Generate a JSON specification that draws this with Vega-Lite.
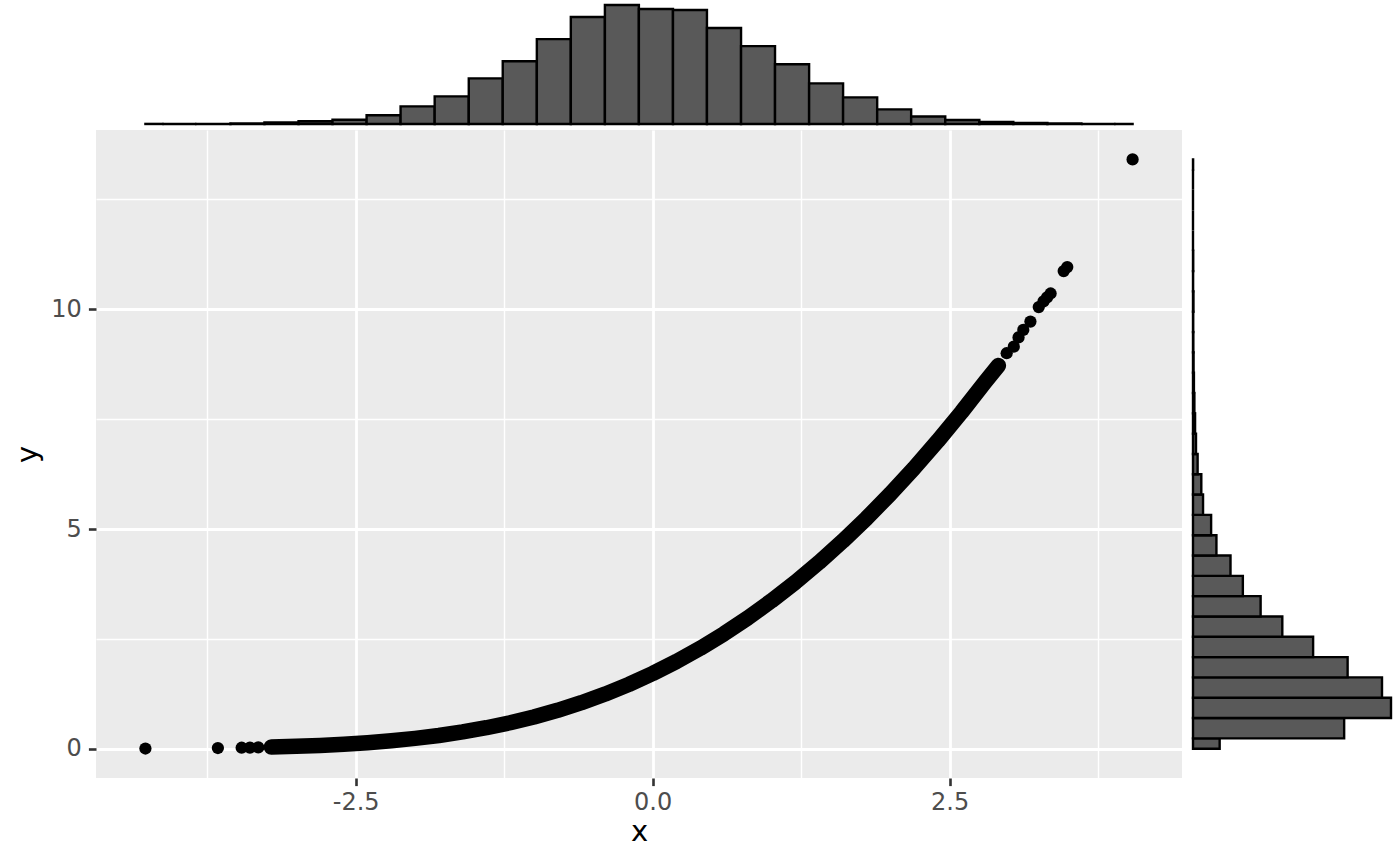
{
  "$schema": "https://vega.github.io/schema/vega-lite/v6.json",
  "background": "white",
  "padding": {"left": 13, "top": 3, "right": 5, "bottom": 5},
  "config": {"view": {"stroke": null}, "font": "DejaVu Sans"},
  "columns": 2,
  "align": "each",
  "spacing": {"row": 4, "column": 9},
  "datasets": {
    "pts": [
      {"x": -4.27, "y": 0.005}, {"x": -3.66, "y": 0.016}, {"x": -3.46, "y": 0.023}, {"x": -3.39, "y": 0.026}, {"x": -3.32, "y": 0.03},
      {"x": -3.21, "y": 0.037}, {"x": -3.0, "y": 0.054}, {"x": -2.8, "y": 0.075}, {"x": -2.6, "y": 0.102}, {"x": -2.4, "y": 0.137},
      {"x": -2.2, "y": 0.181}, {"x": -2.0, "y": 0.235}, {"x": -1.8, "y": 0.301}, {"x": -1.6, "y": 0.382}, {"x": -1.4, "y": 0.478},
      {"x": -1.2, "y": 0.591}, {"x": -1.0, "y": 0.722}, {"x": -0.8, "y": 0.874}, {"x": -0.6, "y": 1.048}, {"x": -0.4, "y": 1.244},
      {"x": -0.2, "y": 1.465}, {"x": 0.0, "y": 1.712}, {"x": 0.2, "y": 1.985}, {"x": 0.4, "y": 2.286}, {"x": 0.6, "y": 2.616},
      {"x": 0.8, "y": 2.976}, {"x": 1.0, "y": 3.366}, {"x": 1.2, "y": 3.787}, {"x": 1.4, "y": 4.24}, {"x": 1.6, "y": 4.725},
      {"x": 1.8, "y": 5.244}, {"x": 2.0, "y": 5.797}, {"x": 2.2, "y": 6.383}, {"x": 2.4, "y": 7.004}, {"x": 2.6, "y": 7.66},
      {"x": 2.8, "y": 8.351}, {"x": 2.91, "y": 8.72},
      {"x": 2.98, "y": 9.0}, {"x": 3.04, "y": 9.15}, {"x": 3.08, "y": 9.36}, {"x": 3.12, "y": 9.53}, {"x": 3.18, "y": 9.72},
      {"x": 3.25, "y": 10.05}, {"x": 3.29, "y": 10.18}, {"x": 3.32, "y": 10.27}, {"x": 3.35, "y": 10.36},
      {"x": 3.46, "y": 10.87}, {"x": 3.49, "y": 10.96}, {"x": 4.04, "y": 13.41}
    ],
    "xhist": [
      {"x0": -4.27, "x1": -4.127, "count": 1}, {"x0": -4.127, "x1": -3.841, "count": 0}, {"x0": -3.841, "x1": -3.554, "count": 1},
      {"x0": -3.554, "x1": -3.268, "count": 5}, {"x0": -3.268, "x1": -2.981, "count": 15}, {"x0": -2.981, "x1": -2.695, "count": 26},
      {"x0": -2.695, "x1": -2.408, "count": 40}, {"x0": -2.408, "x1": -2.122, "count": 82}, {"x0": -2.122, "x1": -1.835, "count": 164},
      {"x0": -1.835, "x1": -1.548, "count": 258}, {"x0": -1.548, "x1": -1.262, "count": 426}, {"x0": -1.262, "x1": -0.975, "count": 586},
      {"x0": -0.975, "x1": -0.689, "count": 792}, {"x0": -0.689, "x1": -0.402, "count": 998}, {"x0": -0.402, "x1": -0.116, "count": 1110},
      {"x0": -0.116, "x1": 0.171, "count": 1073}, {"x0": 0.171, "x1": 0.457, "count": 1063}, {"x0": 0.457, "x1": 0.744, "count": 895},
      {"x0": 0.744, "x1": 1.03, "count": 726}, {"x0": 1.03, "x1": 1.317, "count": 557}, {"x0": 1.317, "x1": 1.603, "count": 379},
      {"x0": 1.603, "x1": 1.89, "count": 248}, {"x0": 1.89, "x1": 2.176, "count": 136}, {"x0": 2.176, "x1": 2.463, "count": 70},
      {"x0": 2.463, "x1": 2.75, "count": 37}, {"x0": 2.75, "x1": 3.036, "count": 19}, {"x0": 3.036, "x1": 3.323, "count": 9},
      {"x0": 3.323, "x1": 3.609, "count": 4}, {"x0": 3.609, "x1": 3.896, "count": 0}, {"x0": 3.896, "x1": 4.04, "count": 1}
    ],
    "yhist": [
      {"y0": 0, "y1": 0.236, "count": 231}, {"y0": 0.236, "y1": 0.698, "count": 1310}, {"y0": 0.698, "y1": 1.16, "count": 1716},
      {"y0": 1.16, "y1": 1.623, "count": 1638}, {"y0": 1.623, "y1": 2.085, "count": 1340}, {"y0": 2.085, "y1": 2.547, "count": 1041},
      {"y0": 2.547, "y1": 3.01, "count": 774}, {"y0": 3.01, "y1": 3.472, "count": 586}, {"y0": 3.472, "y1": 3.934, "count": 432},
      {"y0": 3.934, "y1": 4.397, "count": 325}, {"y0": 4.397, "y1": 4.859, "count": 203}, {"y0": 4.859, "y1": 5.321, "count": 157},
      {"y0": 5.321, "y1": 5.784, "count": 87}, {"y0": 5.784, "y1": 6.246, "count": 72}, {"y0": 6.246, "y1": 6.708, "count": 40},
      {"y0": 6.708, "y1": 7.171, "count": 26}, {"y0": 7.171, "y1": 7.633, "count": 18}, {"y0": 7.633, "y1": 8.095, "count": 12},
      {"y0": 8.095, "y1": 8.558, "count": 8}, {"y0": 8.558, "y1": 9.02, "count": 5}, {"y0": 9.02, "y1": 9.482, "count": 3},
      {"y0": 9.482, "y1": 9.945, "count": 2}, {"y0": 9.945, "y1": 10.407, "count": 4}, {"y0": 10.407, "y1": 10.869, "count": 1},
      {"y0": 10.869, "y1": 11.332, "count": 2}, {"y0": 11.332, "y1": 11.794, "count": 0}, {"y0": 11.794, "y1": 12.256, "count": 0},
      {"y0": 12.256, "y1": 12.719, "count": 0}, {"y0": 12.719, "y1": 13.181, "count": 0}, {"y0": 13.181, "y1": 13.41, "count": 1}
    ]
  },
  "concat": [
    {
      "width": 1086,
      "height": 119,
      "data": {"name": "xhist"},
      "mark": {"type": "rect", "fill": "#595959", "stroke": "black", "strokeWidth": 2.4},
      "encoding": {
        "x": {"field": "x0", "type": "quantitative", "scale": {"domain": [-4.686, 4.456], "nice": false, "zero": false}, "axis": null},
        "x2": {"field": "x1"},
        "y": {"field": "count", "type": "quantitative", "scale": {"domain": [0, 1110], "nice": false}, "axis": null},
        "y2": {"datum": 0}
      }
    },
    {
      "width": 198,
      "height": 119,
      "data": {"values": []},
      "mark": {"type": "point", "opacity": 0}
    },
    {
      "width": 1086,
      "height": 648,
      "view": {"fill": "#EBEBEB"},
      "data": {"name": "pts"},
      "layer": [
        {
          "transform": [{"filter": "datum.x >= -3.25 && datum.x <= 2.95"}],
          "mark": {"type": "line", "color": "black", "strokeWidth": 15.5, "strokeCap": "round", "strokeJoin": "round"},
          "encoding": {
            "x": {"field": "x", "type": "quantitative", "scale": {"domain": [-4.686, 4.456], "nice": false, "zero": false},
                  "axis": {"orient": "top", "values": [-3.75, -1.25, 1.25, 3.75], "grid": true, "gridColor": "white", "gridWidth": 1.4, "gridOpacity": 1,
                           "labels": false, "ticks": false, "domain": false, "title": null, "minExtent": 0, "maxExtent": 0, "offset": 0}},
            "y": {"field": "y", "type": "quantitative", "scale": {"domain": [-0.666, 14.08], "nice": false, "zero": false},
                  "axis": {"orient": "right", "values": [2.5, 7.5, 12.5], "grid": true, "gridColor": "white", "gridWidth": 1.4, "gridOpacity": 1,
                           "labels": false, "ticks": false, "domain": false, "title": null, "minExtent": 0, "maxExtent": 0, "offset": 0}}
          }
        },
        {
          "mark": {"type": "circle", "color": "black", "size": 150, "opacity": 1},
          "encoding": {
            "x": {"field": "x", "type": "quantitative", "scale": {"domain": [-4.686, 4.456], "nice": false, "zero": false},
                  "axis": {"orient": "bottom", "values": [-2.5, 0, 2.5], "grid": true, "gridColor": "white", "gridWidth": 2.8, "gridOpacity": 1,
                           "domain": false, "ticks": true, "tickSize": 7.6, "tickWidth": 2.6, "tickColor": "#333333",
                           "labelFontSize": 24, "labelColor": "#4D4D4D", "labelPadding": 5,
                           "labelExpr": "datum.value == 0 ? '0.0' : '' + datum.value",
                           "title": "x", "titleFontSize": 29, "titleFontWeight": "normal", "titleColor": "black", "titlePadding": 3}},
            "y": {"field": "y", "type": "quantitative", "scale": {"domain": [-0.666, 14.08], "nice": false, "zero": false},
                  "axis": {"orient": "left", "values": [0, 5, 10], "grid": true, "gridColor": "white", "gridWidth": 2.8, "gridOpacity": 1,
                           "domain": false, "ticks": true, "tickSize": 7.6, "tickWidth": 2.6, "tickColor": "#333333",
                           "labelFontSize": 24, "labelColor": "#4D4D4D", "labelPadding": 7, "format": "d",
                           "title": "y", "titleFontSize": 29, "titleFontWeight": "normal", "titleColor": "black", "titlePadding": 8}}
          }
        }
      ],
      "resolve": {"axis": {"x": "independent", "y": "independent"}}
    },
    {
      "width": 198,
      "height": 648,
      "data": {"name": "yhist"},
      "mark": {"type": "rect", "fill": "#595959", "stroke": "black", "strokeWidth": 2.4},
      "encoding": {
        "y": {"field": "y0", "type": "quantitative", "scale": {"domain": [-0.666, 14.08], "nice": false, "zero": false}, "axis": null},
        "y2": {"field": "y1"},
        "x": {"field": "count", "type": "quantitative", "scale": {"domain": [0, 1716], "nice": false}, "axis": null},
        "x2": {"datum": 0}
      }
    }
  ]
}
